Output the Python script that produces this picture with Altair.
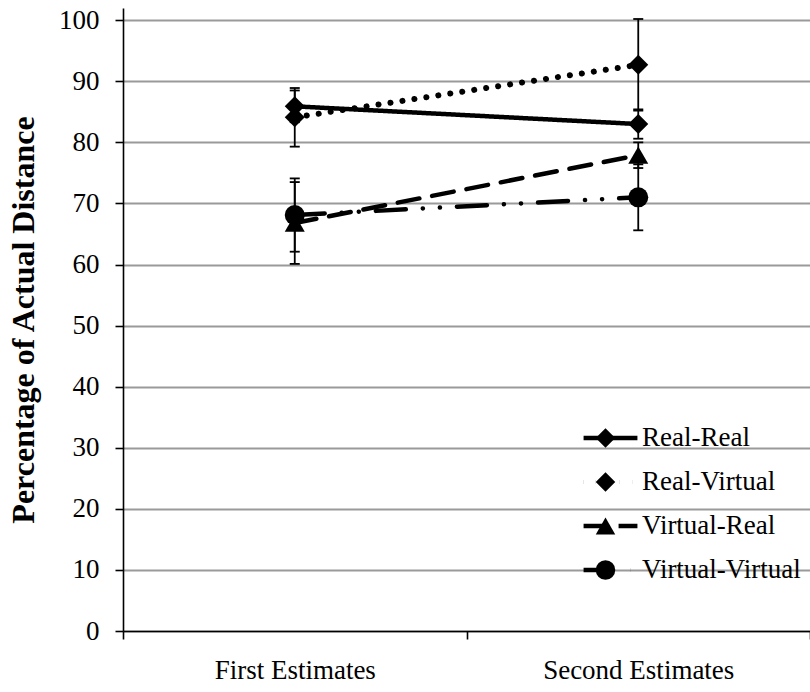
import altair as alt
import pandas as pd

categories = ["First Estimates", "Second Estimates"]
series = ["Real-Real", "Real-Virtual", "Virtual-Real", "Virtual-Virtual"]
shapes = ["diamond", "diamond", "triangle-up", "circle"]
means = {
    "Real-Real": [85.9, 83.0],
    "Real-Virtual": [84.1, 92.7],
    "Virtual-Real": [66.8, 77.9],
    "Virtual-Virtual": [68.1, 71.0],
}
errors = {
    "Real-Real": [2.6, 2.4],
    "Real-Virtual": [4.8, 7.5],
    "Virtual-Real": [6.7, 2.1],
    "Virtual-Virtual": [6.0, 5.4],
}
y_ticks = [0, 10, 20, 30, 40, 50, 60, 70, 80, 90, 100]

markers = ["m:" + s for s in series]

rows = []
for s, mk in zip(series, markers):
    for i, c in enumerate(categories):
        m, e = means[s][i], errors[s][i]
        rows.append({"cond": c, "series": s, "marker": mk, "value": m,
                     "lo": m - e, "hi": m + e})
df = pd.DataFrame(rows)

FONT = "Liberation Serif"
dash_range = [[1, 0], [0.1, 12], [22, 13], [30, 17, 0.1, 17, 0.1, 17]]

x_enc = alt.X("cond:N", sort=categories, title=None,
              scale=alt.Scale(paddingInner=0, paddingOuter=0),
              axis=alt.Axis(labelAngle=0, tickBand="extent", grid=False,
                            domainColor="black", domainWidth=1.6,
                            tickColor="black", tickWidth=1.6, tickSize=8,
                            labelFont=FONT, labelFontSize=27, labelColor="black",
                            labelPadding=18, labelLimit=400))
y_scale = alt.Scale(domain=[0, 102], nice=False)
y_enc = alt.Y("value:Q", scale=y_scale, title="Percentage of Actual Distance",
              axis=alt.Axis(values=y_ticks, grid=True, gridColor="#9a9a9a",
                            gridWidth=1.8, domainColor="black", domainWidth=1.6,
                            tickColor="black", tickWidth=1.6, tickSize=8,
                            labelFont=FONT, labelFontSize=27, labelColor="black",
                            labelPadding=16, titleFont=FONT, titleFontSize=32,
                            titleFontWeight="bold", titleColor="black",
                            titlePadding=18))

base = alt.Chart(df)

rules = base.mark_rule(color="black", strokeWidth=1.8).encode(
    x=x_enc, y=alt.Y("lo:Q", scale=y_scale), y2="hi:Q")
caps_lo = base.mark_tick(color="black", thickness=1.8, size=10, opacity=1).encode(
    x=x_enc, y=alt.Y("lo:Q", scale=y_scale))
caps_hi = base.mark_tick(color="black", thickness=1.8, size=10, opacity=1).encode(
    x=x_enc, y=alt.Y("hi:Q", scale=y_scale))

dash_enc = alt.StrokeDash("series:N", sort=series,
                          scale=alt.Scale(domain=series, range=dash_range),
                          legend=alt.Legend(title=None, orient="none",
                                            legendX=458, legendY=410,
                                            symbolType="stroke", symbolSize=2900,
                                            symbolStrokeWidth=4.5,
                                            symbolStrokeColor="black",
                                            clipHeight=40, rowPadding=4,
                                            labelFont=FONT, labelFontSize=27,
                                            labelColor="black", labelOffset=2,
                                            labelLimit=400))

lines_main = base.transform_filter(alt.datum.series != "Real-Virtual").mark_line(
    color="black", strokeCap="round", strokeWidth=4.5).encode(
    x=x_enc, y=y_enc, strokeDash=dash_enc)
lines_dot = base.transform_filter(alt.datum.series == "Real-Virtual").mark_line(
    color="black", strokeCap="round", strokeWidth=6).encode(
    x=x_enc, y=y_enc, strokeDash=dash_enc)

points = base.mark_point(filled=True, color="black", opacity=1, size=400).encode(
    x=x_enc, y=y_enc,
    shape=alt.Shape("marker:N", sort=markers,
                    scale=alt.Scale(domain=markers, range=shapes),
                    legend=alt.Legend(title=None, orient="none",
                                      legendX=472, legendY=410,
                                      symbolSize=380, symbolFillColor="black",
                                      symbolStrokeColor="black",
                                      clipHeight=40, rowPadding=4,
                                      labelFontSize=1, labelExpr="''")),
)

chart = alt.layer(rules, caps_lo, caps_hi, lines_main, lines_dot, points).properties(
    width=687, height=623,
    autosize=alt.AutoSizeParams(type="none"),
    padding={"left": 123, "top": 8, "right": 0, "bottom": 61},
    background="white",
).configure_view(stroke=None)

chart.save("out.html", embed_options={"renderer": "svg", "actions": False})
